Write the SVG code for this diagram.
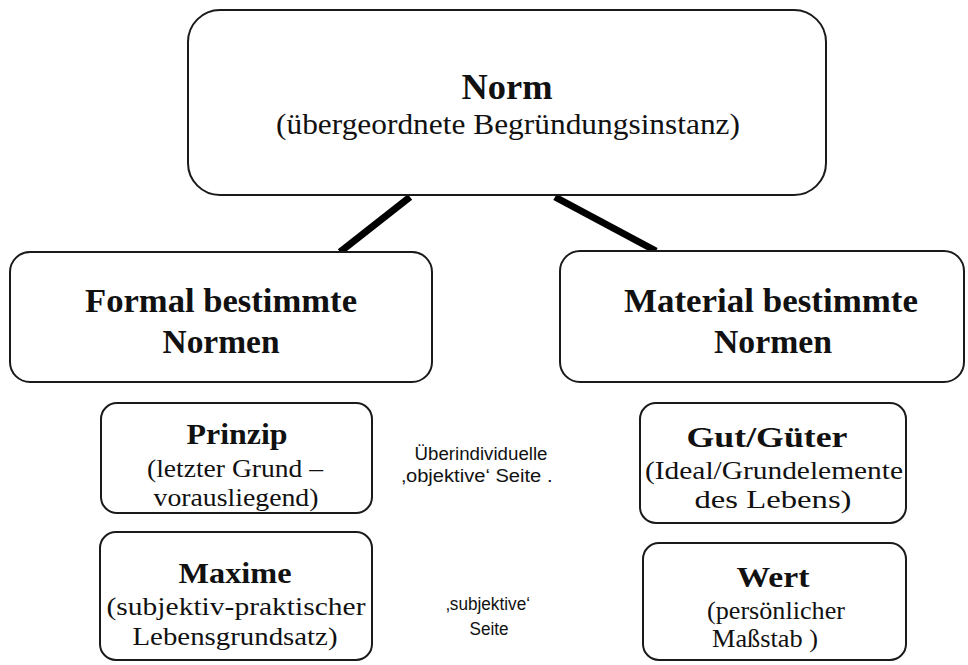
<svg xmlns="http://www.w3.org/2000/svg" width="968" height="665" viewBox="0 0 968 665">
<style>
.box{fill:#fff;stroke:#1a1a1a;stroke-width:2}
.h{font-family:"Liberation Serif",serif;font-weight:bold;fill:#111;text-anchor:middle}
.s{font-family:"Liberation Serif",serif;fill:#111;text-anchor:middle}
.n{font-family:"Liberation Sans",sans-serif;fill:#111;text-anchor:middle}
.c{stroke:#000;stroke-width:7;fill:none}
</style>
<rect width="968" height="665" fill="#fff"/>
<g id="connectors">
<line class="c" x1="410" y1="197" x2="340" y2="252"/>
<line class="c" x1="555" y1="197" x2="656" y2="251"/>
</g>
<g id="norm">
<rect class="box" x="188" y="10" width="638" height="185" rx="32"/>
<text class="h" x="507" y="99" style="font-size:35px" textLength="91" lengthAdjust="spacingAndGlyphs">Norm</text>
<text class="s" x="508" y="134" style="font-size:29px" textLength="464" lengthAdjust="spacingAndGlyphs">(übergeordnete Begründungsinstanz)</text>
</g>
<g id="formal">
<rect class="box" x="10" y="252" width="422" height="130" rx="20"/>
<text class="h" x="221" y="312" style="font-size:33px" textLength="272" lengthAdjust="spacingAndGlyphs">Formal bestimmte</text>
<text class="h" x="221" y="353" style="font-size:33px" textLength="117" lengthAdjust="spacingAndGlyphs">Normen</text>
</g>
<g id="material">
<rect class="box" x="560" y="251" width="404" height="131" rx="20"/>
<text class="h" x="771" y="312" style="font-size:33px" textLength="294" lengthAdjust="spacingAndGlyphs">Material bestimmte</text>
<text class="h" x="773" y="353" style="font-size:33px" textLength="118" lengthAdjust="spacingAndGlyphs">Normen</text>
</g>
<g id="prinzip">
<rect class="box" x="101" y="403" width="271" height="110" rx="16"/>
<text class="h" x="237" y="444" style="font-size:29px" textLength="101" lengthAdjust="spacingAndGlyphs">Prinzip</text>
<text class="s" x="235" y="477" style="font-size:25px" textLength="176" lengthAdjust="spacingAndGlyphs">(letzter Grund –</text>
<text class="s" x="236" y="506" style="font-size:25px" textLength="165" lengthAdjust="spacingAndGlyphs">vorausliegend)</text>
</g>
<g id="maxime">
<rect class="box" x="100" y="532" width="272" height="128" rx="16"/>
<text class="h" x="235" y="583" style="font-size:29px" textLength="113" lengthAdjust="spacingAndGlyphs">Maxime</text>
<text class="s" x="236" y="615" style="font-size:25px" textLength="259" lengthAdjust="spacingAndGlyphs">(subjektiv-praktischer</text>
<text class="s" x="235" y="645" style="font-size:25px" textLength="205" lengthAdjust="spacingAndGlyphs">Lebensgrundsatz)</text>
</g>
<g id="gut">
<rect class="box" x="640" y="403" width="266" height="120" rx="16"/>
<text class="h" x="767" y="447" style="font-size:29px" textLength="161" lengthAdjust="spacingAndGlyphs">Gut/Güter</text>
<text class="s" x="774" y="479" style="font-size:25px" textLength="258" lengthAdjust="spacingAndGlyphs">(Ideal/Grundelemente</text>
<text class="s" x="773" y="508" style="font-size:25px" textLength="157" lengthAdjust="spacingAndGlyphs">des Lebens)</text>
</g>
<g id="wert">
<rect class="box" x="643" y="543" width="263" height="117" rx="16"/>
<text class="h" x="773" y="587" style="font-size:29px" textLength="73" lengthAdjust="spacingAndGlyphs">Wert</text>
<text class="s" x="776" y="619" style="font-size:25px" textLength="138" lengthAdjust="spacingAndGlyphs">(persönlicher</text>
<text class="s" x="765" y="647" style="font-size:25px" textLength="106" lengthAdjust="spacingAndGlyphs">Maßstab )</text>
</g>
<g id="objektiv">
<text class="n" x="481" y="460" style="font-size:18px" textLength="133" lengthAdjust="spacingAndGlyphs">Überindividuelle</text>
<text class="n" x="477" y="482" style="font-size:18px" textLength="151" lengthAdjust="spacingAndGlyphs">‚objektive‘ Seite .</text>
</g>
<g id="subjektiv">
<text class="n" x="488" y="610" style="font-size:18px" textLength="84" lengthAdjust="spacingAndGlyphs">‚subjektive‘</text>
<text class="n" x="489" y="635" style="font-size:18px" textLength="39" lengthAdjust="spacingAndGlyphs">Seite</text>
</g>
</svg>
